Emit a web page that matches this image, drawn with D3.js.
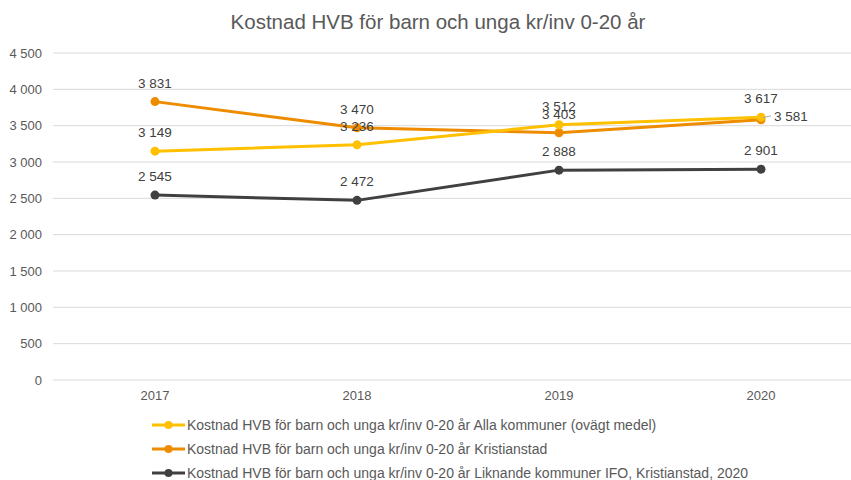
<!DOCTYPE html>
<html>
<head>
<meta charset="utf-8">
<script src="https://cdn.jsdelivr.net/npm/d3@7"></script>
<style>
  body { margin: 0; background: #fff; }
  svg { font-family: "Liberation Sans", Arial, sans-serif; }
</style>
</head>
<body>
<div id="chart"></div>
<script>
// chart data
var years = ["2017", "2018", "2019", "2020"];
var allaKommuner = [3149, 3236, 3512, 3617];
var kristianstad = [3831, 3470, 3403, 3581];
var liknande = [2545, 2472, 2888, 2901];
var yTicks = [0, 500, 1000, 1500, 2000, 2500, 3000, 3500, 4000, 4500];

var seriesNames = [
    "Kostnad HVB för barn och unga kr/inv 0-20 år Alla kommuner (ovägt medel)",
    "Kostnad HVB för barn och unga kr/inv 0-20 år Kristianstad",
    "Kostnad HVB för barn och unga kr/inv 0-20 år Liknande kommuner IFO, Kristianstad, 2020"
];

var width = 851;
var height = 480;

var series = [
    { name: seriesNames[0], values: allaKommuner, color: "#FFC000", w: 3 },
    { name: seriesNames[1], values: kristianstad, color: "#EE8C00", w: 3 },
    { name: seriesNames[2], values: liknande, color: "#404040", w: 3 }
];

var fmt = d => d3.format(",")(d).replace(/,/g, " ");

var svg = d3.select("#chart")
    .append("svg")
    .attr("width", width)
    .attr("height", height);

var xScale = d3.scaleBand()
    .domain(years)
    .range([54, 862]);

var yScale = d3.scaleLinear()
    .domain([0, 4500])
    .range([380, 53]);

// title
svg.append("text")
    .attr("x", 438)
    .attr("y", 29)
    .attr("text-anchor", "middle")
    .attr("font-size", "20.5px")
    .attr("fill", "#595959")
    .text("Kostnad HVB för barn och unga kr/inv 0-20 år");

// gridlines
svg.append("g")
    .selectAll("line")
    .data(yTicks)
    .enter()
    .append("line")
    .attr("x1", 53)
    .attr("x2", width)
    .attr("y1", d => yScale(d))
    .attr("y2", d => yScale(d))
    .attr("stroke", "#d9d9d9")
    .attr("stroke-width", 1);

// y labels
svg.append("g")
    .selectAll("text")
    .data(yTicks)
    .enter()
    .append("text")
    .attr("x", 42)
    .attr("y", d => yScale(d) + 4.5)
    .attr("text-anchor", "end")
    .attr("font-size", "13px")
    .attr("fill", "#595959")
    .text(d => fmt(d));

// x labels
svg.append("g")
    .selectAll("text")
    .data(years)
    .enter()
    .append("text")
    .attr("x", d => xScale(d) + xScale.bandwidth() / 2)
    .attr("y", 399.5)
    .attr("text-anchor", "middle")
    .attr("font-size", "13px")
    .attr("fill", "#595959")
    .text(d => d);

var cx = i => xScale(years[i]) + xScale.bandwidth() / 2;

var line = d3.line()
    .x((d, i) => cx(i))
    .y(d => yScale(d));

// draw series, dark first so the orange/yellow sit on top
[2, 1, 0].forEach(function (k) {
    var s = series[k];
    var g = svg.append("g");
    g.append("path")
        .datum(s.values)
        .attr("d", line)
        .attr("fill", "none")
        .attr("stroke", s.color)
        .attr("stroke-width", s.w)
        .attr("stroke-linejoin", "round")
        .attr("stroke-linecap", "round");
    g.selectAll("circle")
        .data(s.values)
        .enter()
        .append("circle")
        .attr("cx", (d, i) => cx(i))
        .attr("cy", d => yScale(d))
        .attr("r", 4.5)
        .attr("fill", s.color);
});

// data labels
series.forEach(function (s, k) {
    svg.append("g")
        .selectAll("text")
        .data(s.values)
        .enter()
        .append("text")
        .attr("x", (d, i) => (k == 1 && i == 3) ? cx(i) + 13 : cx(i))
        .attr("y", (d, i) => (k == 1 && i == 3) ? yScale(d) + 1 : yScale(d) - 14)
        .attr("text-anchor", (d, i) => (k == 1 && i == 3) ? "start" : "middle")
        .attr("font-size", "13.5px")
        .attr("fill", "#404040")
        .text(d => fmt(d));
});

// leader line for the Kristianstad 2020 label
svg.append("line")
    .attr("x1", cx(3) + 2)
    .attr("x2", cx(3) + 10)
    .attr("y1", yScale(kristianstad[3]) - 2)
    .attr("y2", yScale(kristianstad[3]) - 4)
    .attr("stroke", "#a6a6a6")
    .attr("stroke-width", 1);

// legend
var legend = svg.append("g")
    .selectAll("g")
    .data(series)
    .enter()
    .append("g")
    .attr("transform", (d, i) => "translate(152," + (425 + i * 24) + ")");

legend.append("line")
    .attr("x1", 0)
    .attr("x2", 33)
    .attr("stroke", d => d.color)
    .attr("stroke-width", 3);

legend.append("circle")
    .attr("cx", 16.5)
    .attr("r", 4)
    .attr("fill", d => d.color);

legend.append("text")
    .attr("x", 35)
    .attr("y", 5)
    .attr("font-size", "14px")
    .attr("fill", "#595959")
    .text(d => d.name);
</script>
</body>
</html>
